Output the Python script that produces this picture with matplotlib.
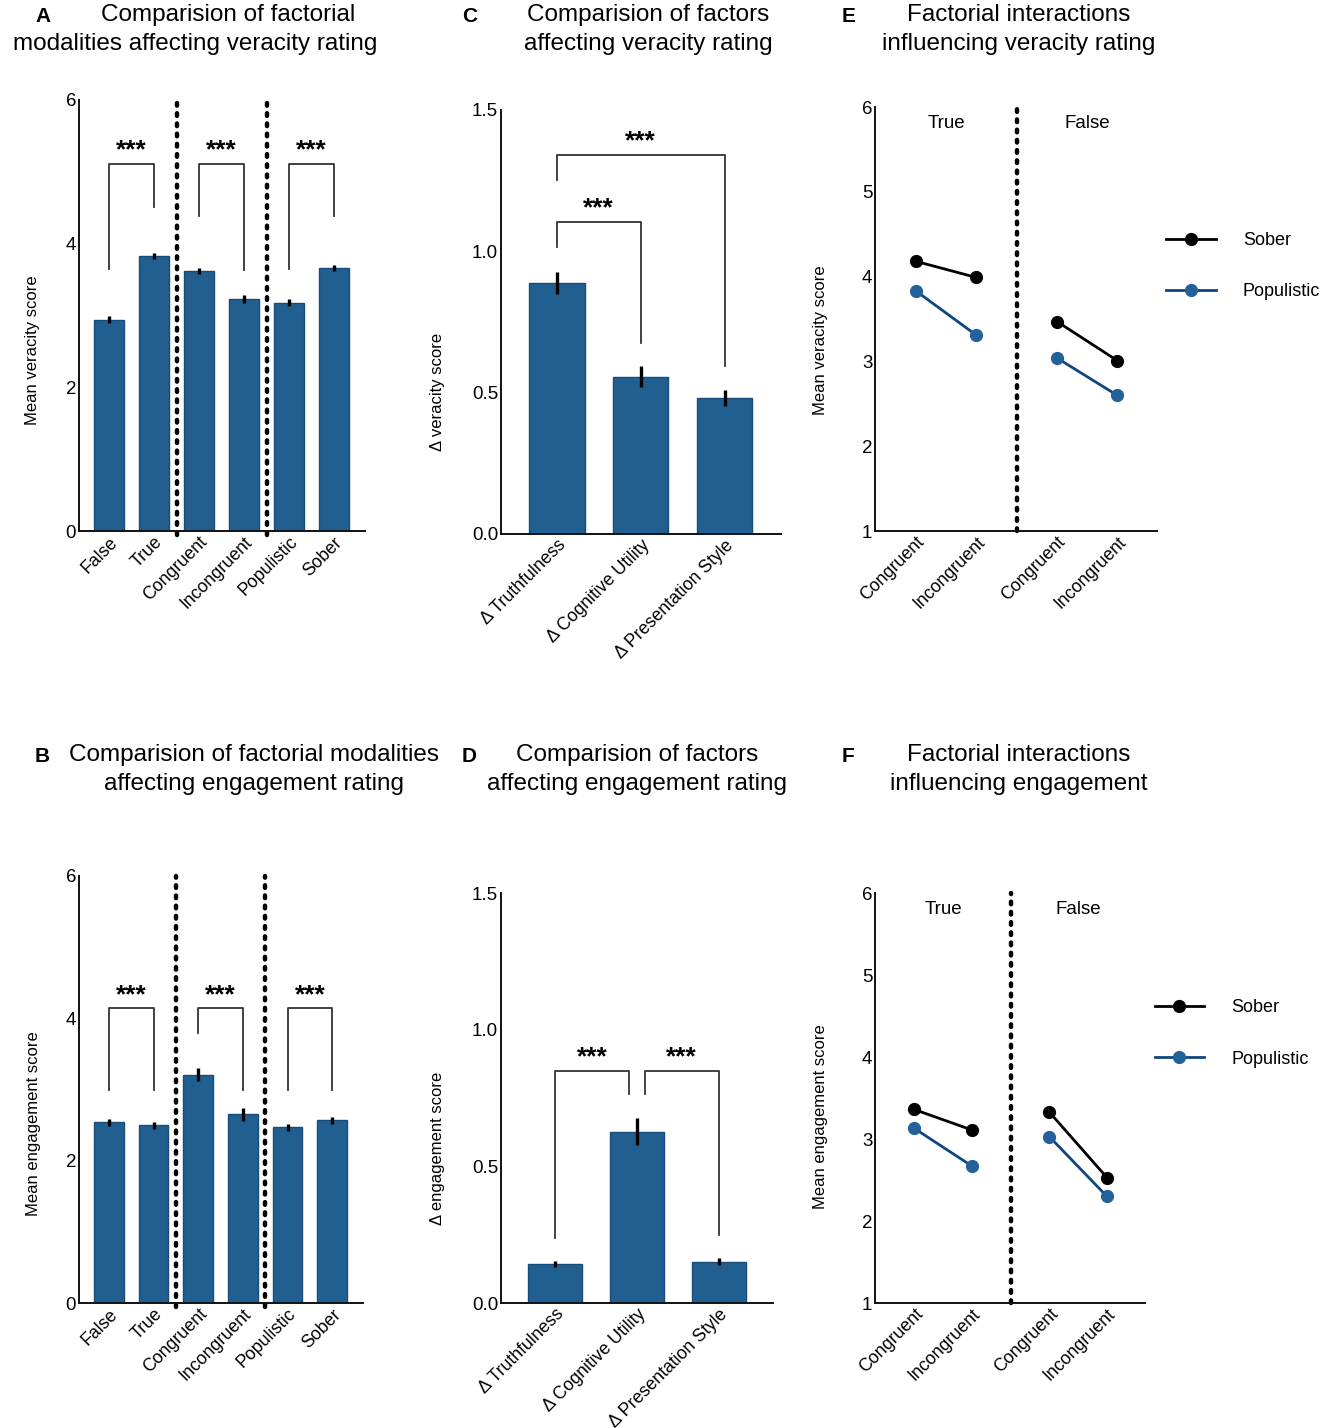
import matplotlib
matplotlib.use('Agg')
import matplotlib.pyplot as plt
from matplotlib.lines import Line2D

plt.rcParams['font.family'] = ['Liberation Sans', 'DejaVu Sans']

BAR_COLOR = '#225f91'
EDGE_COLOR = '#174c7a'
POP_LINE = '#0f4580'
POP_MARKER = '#22619a'

# panels A / B: factorial modalities
modality_labels = ['False', 'True', 'Congruent', 'Incongruent', 'Populistic', 'Sober']
veracity_means = [2.94, 3.83, 3.62, 3.23, 3.18, 3.66]
veracity_errs = [0.05, 0.04, 0.04, 0.05, 0.05, 0.04]
engagement_means = [2.54, 2.50, 3.21, 2.65, 2.47, 2.57]
engagement_errs = [0.05, 0.05, 0.09, 0.09, 0.05, 0.05]

# panels C / D: factor differences
factor_labels = ['Δ Truthfulness', 'Δ Cognitive Utility', 'Δ Presentation Style']
delta_veracity = [0.888, 0.556, 0.481]
delta_veracity_errs = [0.04, 0.037, 0.027]
delta_engagement = [0.143, 0.627, 0.151]
delta_engagement_errs = [0.01, 0.05, 0.012]

# significance brackets: (left x, right x, top y, left leg end, right leg end)
veracity_brackets = [(0, 1, 5.11, 3.65, 4.51), (2, 3, 5.11, 4.38, 3.64), (4, 5, 5.11, 3.65, 4.38)]
engagement_brackets = [(0, 1, 4.14, 2.99, 2.99), (2, 3, 4.14, 3.80, 2.99), (4, 5, 4.14, 2.99, 2.99)]
delta_veracity_brackets = [(0, 1, 1.104, 1.015, 0.676), (0, 2, 1.341, 1.253, 0.595)]
delta_engagement_brackets = [(0, 0.9, 0.85, 0.237, 0.763), (1.09, 2, 0.85, 0.763, 0.25)]

# panels E / F: interactions (True pair, False pair)
interaction_labels = ['Congruent', 'Incongruent', 'Congruent', 'Incongruent']
group_labels = ['True', 'False']
veracity_sober = [4.18, 3.99, 3.47, 3.01]
veracity_populistic = [3.83, 3.31, 3.04, 2.60]
engagement_sober = [3.36, 3.11, 3.33, 2.53]
engagement_populistic = [3.13, 2.67, 3.03, 2.30]

W, H = 1325, 1428
fig = plt.figure(figsize=(W / 100, H / 100), dpi=100)


def px_axes(left, top, right, bottom):
    return fig.add_axes([left / W, 1 - bottom / H, (right - left) / W, (bottom - top) / H])


def style_axes(ax, labels):
    for s in ['top', 'right']:
        ax.spines[s].set_visible(False)
    for s in ['left', 'bottom']:
        ax.spines[s].set_linewidth(1.4)
        ax.spines[s].set_color('#111111')
    ax.tick_params(axis='both', length=0, pad=2)
    ax.tick_params(axis='y', labelsize=13.5)
    ax.set_xticklabels(labels, rotation=45, ha='right', rotation_mode='anchor', fontsize=12.8)


def draw_brackets(ax, brackets):
    for x1, x2, top, l1, l2 in brackets:
        ax.plot([x1, x1, x2, x2], [l1, top, top, l2], color='#333333', lw=1.3)
        ax.annotate('***', xy=((x1 + x2) / 2, top), xytext=(0, 1), textcoords='offset points',
                    ha='center', va='bottom', fontsize=19, fontweight='bold')


def divider(ax, x, y0, y1):
    ax.plot([x, x], [y0, y1], color='black', lw=3.2, linestyle=(0, (0.6, 1.7)),
            dash_capstyle='round', clip_on=False)


def bar_panel(ax, labels, means, errs, ylim, yticks, ylabel, brackets, xlim, label_xy):
    xs = list(range(len(labels)))
    ax.bar(xs, means, width=0.66, color=BAR_COLOR, edgecolor=EDGE_COLOR, linewidth=1)
    ax.errorbar(xs, means, yerr=errs, fmt='none', ecolor='black', elinewidth=2.4, capsize=0)
    ax.set_xlim(*xlim)
    ax.set_ylim(*ylim)
    ax.set_yticks(yticks)
    ax.set_xticks(xs)
    style_axes(ax, labels)
    ax.set_ylabel(ylabel, fontsize=12)
    ax.yaxis.set_label_coords(*label_xy)
    draw_brackets(ax, brackets)


def interaction_panel(ax, sober, populistic, ylabel, label_xy, legend_y):
    xs = [0, 1, 2.34, 3.34]
    for i in (0, 2):
        ax.plot(xs[i:i + 2], sober[i:i + 2], color='black', lw=2, marker='o', ms=8.5)
        ax.plot(xs[i:i + 2], populistic[i:i + 2], color=POP_LINE, lw=2, marker='o', ms=8.5,
                markerfacecolor=POP_MARKER, markeredgecolor=POP_MARKER)
    ax.set_xlim(-0.68, 4.0)
    ax.set_ylim(1, 6)
    ax.set_yticks([1, 2, 3, 4, 5, 6])
    ax.set_xticks(xs)
    style_axes(ax, interaction_labels)
    divider(ax, 1.67, 1.0, 6.0)
    ax.text(0.5, 5.8, group_labels[0], ha='center', va='center', fontsize=13.5)
    ax.text(2.85, 5.8, group_labels[1], ha='center', va='center', fontsize=13.5)
    ax.set_ylabel(ylabel, fontsize=12)
    ax.yaxis.set_label_coords(*label_xy)
    handles = [Line2D([], [], color='black', lw=2, marker='o', ms=8.5),
               Line2D([], [], color=POP_LINE, lw=2, marker='o', ms=8.5,
                      markerfacecolor=POP_MARKER, markeredgecolor=POP_MARKER)]
    ax.legend(handles, ['Sober', 'Populistic'], loc='center left', bbox_to_anchor=(0.975, legend_y),
              frameon=False, fontsize=13, handlelength=2.75, handletextpad=1.5, labelspacing=1.9)


def title(lines, top, letter, lx):
    # each line is (text, centre x in pixels)
    for k, (text, xc) in enumerate(lines):
        fig.text(xc / W, 1 - (top + 29 * k) / H, text, ha='center', va='top', fontsize=17.5)
    fig.text(lx / W, 1 - (top + 3) / H, letter, ha='left', va='top', fontsize=15, fontweight='bold')


# A
axA = px_axes(79, 100, 365, 531)
bar_panel(axA, modality_labels, veracity_means, veracity_errs, (0, 6), [0, 2, 4, 6],
          'Mean veracity score', veracity_brackets, (-0.67, 5.69), (-0.135, 0.42))
divider(axA, 1.5, -0.06, 6.0)
divider(axA, 3.5, -0.06, 6.0)

# B
axB = px_axes(79, 876, 363, 1303)
bar_panel(axB, modality_labels, engagement_means, engagement_errs, (0, 6), [0, 2, 4, 6],
          'Mean engagement score', engagement_brackets, (-0.67, 5.69), (-0.135, 0.42))
divider(axB, 1.5, -0.06, 6.0)
divider(axB, 3.5, -0.06, 6.0)

# C
axC = px_axes(501, 110, 781, 534)
bar_panel(axC, factor_labels, delta_veracity, delta_veracity_errs, (0, 1.5), [0, 0.5, 1.0, 1.5],
          'Δ veracity score', delta_veracity_brackets, (-0.665, 2.67), (-0.2, 0.335))
axC.yaxis.set_major_formatter(plt.FormatStrFormatter('%.1f'))

# D
axD = px_axes(501, 893, 773, 1303)
bar_panel(axD, factor_labels, delta_engagement, delta_engagement_errs, (0, 1.5), [0, 0.5, 1.0, 1.5],
          'Δ engagement score', delta_engagement_brackets, (-0.665, 2.66), (-0.205, 0.378))
axD.yaxis.set_major_formatter(plt.FormatStrFormatter('%.1f'))

# E
axE = px_axes(875, 107, 1157, 531)
interaction_panel(axE, veracity_sober, veracity_populistic, 'Mean veracity score',
                  (-0.167, 0.45), 0.625)

# F
axF = px_axes(875, 893, 1145, 1303)
interaction_panel(axF, engagement_sober, engagement_populistic, 'Mean engagement score',
                  (-0.174, 0.454), 0.657)

title([('Comparision of factorial', 228), ('modalities affecting veracity rating', 195)], 4, 'A', 35)
title([('Comparision of factors', 648), ('affecting veracity rating', 648)], 4, 'C', 462)
title([('Factorial interactions', 1019), ('influencing veracity rating', 1019)], 4, 'E', 842)
title([('Comparision of factorial modalities', 254), ('affecting engagement rating', 254)], 744, 'B', 35)
title([('Comparision of factors', 637), ('affecting engagement rating', 637)], 744, 'D', 462)
title([('Factorial interactions', 1019), ('influencing engagement', 1019)], 744, 'F', 842)

fig.savefig('out.png', dpi=100)
